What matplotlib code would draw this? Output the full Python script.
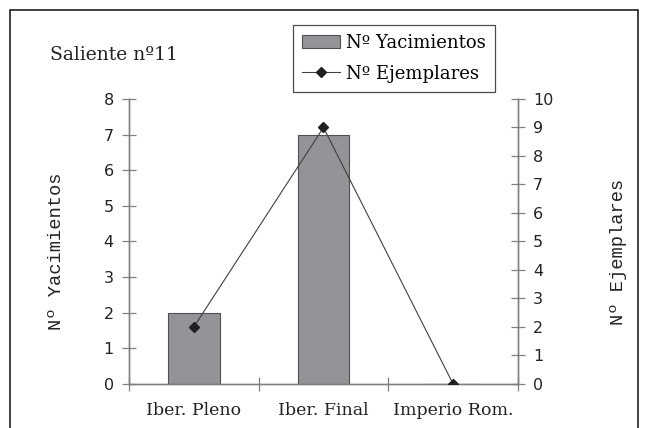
import numpy as np
import matplotlib.pyplot as plt
from matplotlib.patches import Rectangle
from matplotlib.lines import Line2D

categorias = ['Iber. Pleno', 'Iber. Final', 'Imperio Rom.']
yacimientos = [2, 7, 0]
ejemplares = [2, 9, 0]
ticks_izq = np.arange(0, 9)
ticks_der = np.arange(0, 11)

fig = plt.figure(figsize=(6.45, 4.28), dpi=100)
ax = fig.add_axes([0.2, 0.1028, 0.603, 0.666])
ax2 = ax.twinx()

x = np.arange(len(categorias))
ax.bar(x, yacimientos, width=0.4, color='#939398', edgecolor='#505050', linewidth=0.8, zorder=2)
ax2.plot(x, ejemplares, color='#404040', linewidth=0.8, marker='D', markersize=5.5,
         markerfacecolor='#202020', markeredgecolor='#202020', zorder=3)

ax.set_xlim(-0.5, 2.5)
ax.set_ylim(0, 8)
ax2.set_ylim(0, 10)
ax.set_yticks(ticks_izq)
ax2.set_yticks(ticks_der)

grey = '#808080'
for a in (ax, ax2):
    a.spines['top'].set_visible(False)
    for s in ('left', 'right', 'bottom'):
        a.spines[s].set_color(grey)
        a.spines[s].set_linewidth(1.0)
    a.tick_params(axis='y', direction='inout', length=10, color=grey, width=0.9,
                  labelsize=11.5, labelcolor='#222222', pad=6)

ax.set_xticks([-0.5, 0.5, 1.5, 2.5], minor=False)
ax.set_xticklabels([])
ax.tick_params(axis='x', direction='inout', length=10, color=grey, width=0.9)
ax.set_xticks(x, minor=True)
ax.set_xticklabels(categorias, minor=True, family='DejaVu Serif', fontsize=12.5)
ax.tick_params(axis='x', which='minor', length=0, pad=13, labelcolor='#222222')

ax.set_ylabel('Nº Yacimientos', family='Liberation Mono', fontsize=13.5, color='#222222')
ax.yaxis.set_label_coords(-0.165, 0.465)
ax2.set_ylabel('Nº Ejemplares', family='Liberation Mono', fontsize=13.5,
               rotation=90, color='#222222')
ax2.yaxis.set_label_coords(1.236, 0.465)

fig.text(50 / 645, 1 - 55 / 428, 'Saliente nº11', family='DejaVu Serif', fontsize=13.5,
         va='center', ha='left', color='#222222')

handles = [Rectangle((0, 0), 1, 1, facecolor='#939398', edgecolor='#505050', linewidth=0.8),
           Line2D([], [], color='#404040', linewidth=0.8, marker='D', markersize=5.5,
                  markerfacecolor='#202020', markeredgecolor='#202020')]
leg = fig.legend(handles, ['Nº Yacimientos', 'Nº Ejemplares'], loc='upper left',
                 bbox_to_anchor=(293 / 645, 1 - 25 / 428), borderaxespad=0,
                 frameon=True, fancybox=False,
                 prop={'family': 'DejaVu Serif', 'size': 13}, handlelength=2.1,
                 handletextpad=0.35, borderpad=0.5, labelspacing=0.7)
leg.get_frame().set_edgecolor('#202020')
leg.get_frame().set_linewidth(0.9)

fig.patches.append(Rectangle((10 / 645, -0.02), 628 / 645, 1 - 10 / 428 + 0.02,
                             transform=fig.transFigure, fill=False, edgecolor='#202020',
                             linewidth=1.2))

fig.savefig('out.png', dpi=100)
